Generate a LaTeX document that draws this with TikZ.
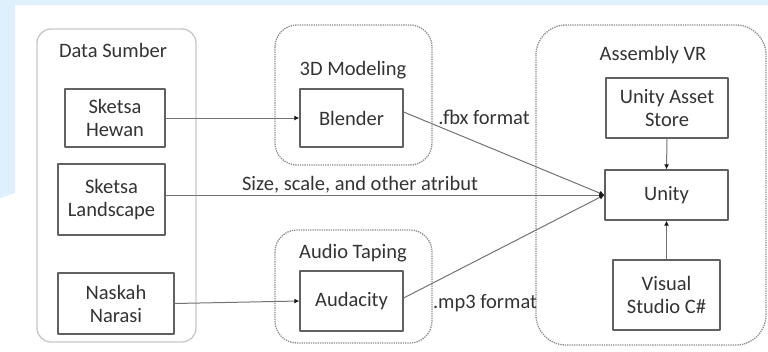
\documentclass[tikz,border=0pt]{standalone}
\usepackage{fontspec}
\setmainfont{Carlito}
\usetikzlibrary{arrows.meta}
\definecolor{bgblue}{RGB}{221,240,252}
\begin{document}
\begin{tikzpicture}[x=1pt,y=-1pt,join=round,font=\fontsize{20.5}{23}\selectfont]
    \tikzstyle{itembox} = [draw=black!62,line width=1.3pt,fill=white,text=black!80,
                           align=center,inner sep=2pt]
    \tikzstyle{groupsolid} = [draw=black!22,line width=1.3pt,rounded corners=14pt]
    \tikzstyle{groupdot} = [draw=black!45,line width=1.3pt,densely dotted,rounded corners=22pt]
    \tikzstyle{ann} = [text=black!80,inner sep=1pt]
    \tikzstyle{link} = [draw=black!55,line width=1pt,-{Latex[length=5pt,width=5pt,color=black!90]}]

    \useasboundingbox (0,0) rectangle (768,351);
    % backdrop
    \fill[bgblue] (0,0) -- (768,0) -- (768,5) -- (15,5) -- (15,193) -- (0,198) -- cycle;

    % groups
    \draw[groupsolid] (37,29) rectangle (196,342);
    \draw[groupdot] (275,25) rectangle (432,165);
    \draw[groupdot] (275,230) rectangle (432,343);
    \draw[groupdot,rounded corners=30pt] (536,25) rectangle (766,345);
    \path (113,50) node[ann] (sumber) {Data Sumber}
          (353,70) node[ann] (modeling) {3D Modeling}
          (353,253) node[ann] (taping) {Audio Taping}
          (653,55) node[ann] (assembly) {Assembly VR};

    % items
    \node[itembox,minimum width=100pt,minimum height=58pt] (hewan) at (115,118)
        {Sketsa\\Hewan};
    \node[itembox,minimum width=107pt,minimum height=71pt] (landscape) at (111.5,199.5)
        {Sketsa\\Landscape};
    \node[itembox,minimum width=116pt,minimum height=61pt] (naskah) at (116,303.5)
        {Naskah\\Narasi};
    \node[itembox,minimum width=103pt,minimum height=58pt] (blender) at (351.5,118)
        {Blender};
    \node[itembox,minimum width=103pt,minimum height=60pt] (audacity) at (351.5,301)
        {Audacity};
    \node[itembox,minimum width=122pt,minimum height=60pt] (asset) at (667,108)
        {Unity Asset\\Store};
    \node[itembox,minimum width=123pt,minimum height=50pt] (unity) at (666.5,195)
        {Unity};
    \node[itembox,minimum width=107pt,minimum height=70pt] (vstudio) at (666.5,295)
        {Visual\\Studio C\#};

    % flows
    \draw[link] (hewan.east) -- (blender.west);
    \draw[link] (naskah.east) -- (audacity.west);
    \draw[link] (landscape.east |- unity.west) -- (unity.west);
    \draw[link] ([yshift=6pt]blender.east) -- (unity.west);
    \draw[link] ([yshift=3pt]audacity.east) -- (unity.west);
    \draw[link] (asset.south) -- (unity.north);
    \draw[link] (vstudio.north) -- (unity.south);
    \path (484,117) node[ann] (fbx) {.fbx format}
          (360,185) node[ann] (atribut) {Size, scale, and other atribut}
          (485,303) node[ann] (mp3) {.mp3 format};
\end{tikzpicture}
\end{document}
